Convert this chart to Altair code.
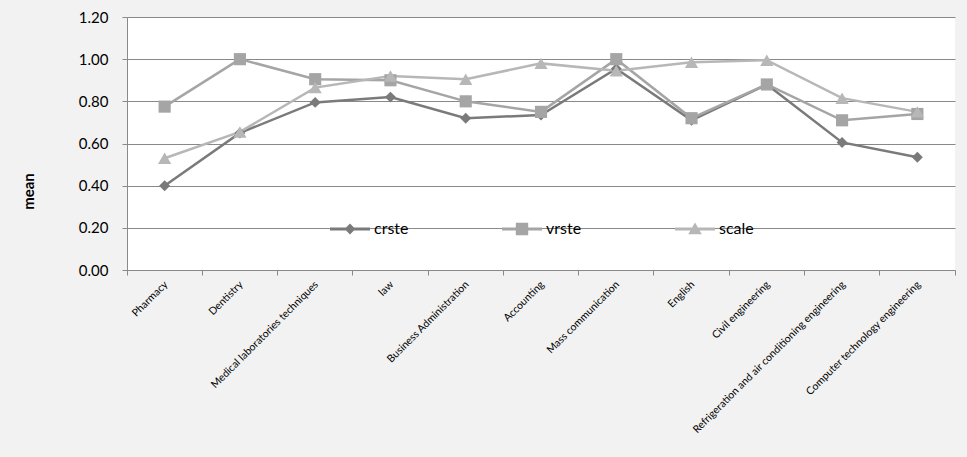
import altair as alt
import pandas as pd

categories = [
    "Pharmacy",
    "Dentistry",
    "Medical laboratories techniques",
    "law",
    "Business Administration",
    "Accounting",
    "Mass communication",
    "English",
    "Civil engineering",
    "Refrigeration and air conditioning engineering",
    "Computer technology engineering",
]
series_names = ["crste", "vrste", "scale"]
crste = [0.40, 0.65, 0.795, 0.82, 0.72, 0.735, 0.955, 0.71, 0.88, 0.605, 0.535]
vrste = [0.775, 1.00, 0.905, 0.90, 0.80, 0.75, 1.00, 0.72, 0.88, 0.71, 0.74]
scale_vals = [0.53, 0.655, 0.865, 0.92, 0.905, 0.98, 0.945, 0.985, 0.995, 0.815, 0.75]
y_ticks = [0.0, 0.2, 0.4, 0.6, 0.8, 1.0, 1.2]

colors = ["#7a7a7a", "#a5a5a5", "#b7b7b7"]
marker_shapes = ["diamond", "square", "triangle-up"]
marker_sizes = [120, 175, 150]
legend_paths = [
    "M-1,-0.075H1V0.075H-1Z M-0.27,0L0,-0.27L0.27,0L0,0.27Z",
    "M-1,-0.075H1V0.075H-1Z M-0.31,-0.31H0.31V0.31H-0.31Z",
    "M-1,-0.075H1V0.075H-1Z M0,-0.33L0.34,0.26L-0.34,0.26Z",
]

rows = []
for name, vals in zip(series_names, [crste, vrste, scale_vals]):
    for c, v in zip(categories, vals):
        rows.append({"category": c, "series": name, "value": v})
df = pd.DataFrame(rows)

FONT = "Lato"
GRID = "#898989"

xscale = alt.Scale(type="band", paddingInner=0, paddingOuter=0)
color_scale = alt.Scale(domain=series_names, range=colors)

yenc = alt.Y(
    "value:Q",
    scale=alt.Scale(domain=[0, 1.2], nice=False, zero=True),
    axis=alt.Axis(
        values=y_ticks, format=".2f", grid=True, gridColor=GRID, gridWidth=1,
        domainColor=GRID, tickColor=GRID, tickSize=5,
        labelFontSize=15, labelPadding=14, labelFont=FONT, labelColor="black",
        title="mean", titleFont=FONT, titleFontSize=15, titleFontWeight="bold",
        titleColor="black", titleAngle=-90, titleX=-94, titleY=174,
        titleAlign="center", titleBaseline="alphabetic",
    ),
)

lines = alt.Chart(df).mark_line(strokeWidth=2.5).encode(
    x=alt.X(
        "category:N", sort=categories, scale=xscale,
        axis=alt.Axis(
            orient="bottom", labelAngle=-45, ticks=False, tickSize=0, domain=True,
            domainColor=GRID, labelFontSize=10.5, labelFont=FONT, labelColor="black",
            labelPadding=9, labelOffset=-2, labelLimit=400, title=None, grid=False,
        ),
    ),
    y=yenc,
    color=alt.Color("series:N", scale=color_scale, legend=None),
)

points = alt.Chart(df).mark_point(filled=True, opacity=1).encode(
    x=alt.X(
        "category:N", sort=categories, scale=xscale,
        axis=alt.Axis(
            orient="bottom", bandPosition=0, labels=False, ticks=True, tickSize=5,
            tickColor=GRID, domain=False, grid=False, title=None,
        ),
    ),
    y=yenc,
    color=alt.Color("series:N", scale=color_scale, legend=None),
    shape=alt.Shape("series:N", scale=alt.Scale(domain=series_names, range=marker_shapes), legend=None),
    size=alt.Size("series:N", scale=alt.Scale(domain=series_names, range=marker_sizes), legend=None),
)

legend_def = dict(
    orient="none", legendX=203, legendY=192, direction="horizontal", title=None,
    symbolSize=1600, symbolStrokeWidth=0, symbolOpacity=1,
    labelFont=FONT, labelFontSize=16, labelColor="black", labelOffset=4,
    columnPadding=93, padding=0,
)

legend_layer = alt.Chart(df).mark_point(filled=True, opacity=0, size=1).encode(
    x=alt.X(
        "category:N", sort=categories, scale=xscale,
        axis=alt.Axis(
            orient="bottom", bandPosition=1, values=[categories[-1]], labels=False,
            ticks=True, tickSize=5, tickColor=GRID, domain=False, grid=False, title=None,
        ),
    ),
    y=yenc,
    color=alt.Color("series:N", scale=color_scale, legend=alt.Legend(**legend_def)),
    shape=alt.Shape("series:N", scale=alt.Scale(domain=series_names, range=legend_paths),
                    legend=alt.Legend(**legend_def)),
)

chart = (
    alt.layer(lines, points, legend_layer)
    .resolve_scale(color="independent", shape="independent", size="independent")
    .resolve_axis(x="independent")
    .properties(
        width=828, height=253,
        padding={"left": 127, "top": 17, "right": 12, "bottom": 187},
        autosize=alt.AutoSizeParams(type="none"),
        background="#f2f2f2",
    )
    .configure_view(fill="white", stroke=None)
)

chart.save("out.html", embed_options={"renderer": "svg", "actions": False})
